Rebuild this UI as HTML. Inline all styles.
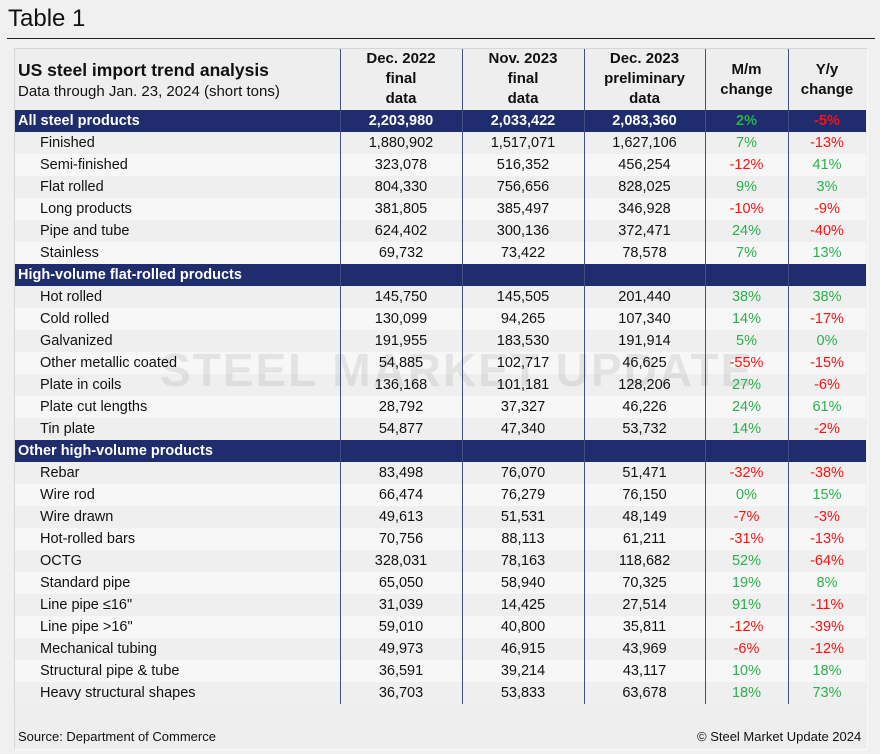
<!DOCTYPE html>
<html><head><meta charset="utf-8"><style>
body{margin:0;width:880px;height:754px;background:#f0f0f0;font-family:"Liberation Sans",Arial,sans-serif;position:relative;overflow:hidden}
#title{position:absolute;left:8px;top:5px;font-size:24px;color:#111}
#rule{position:absolute;left:7px;top:38px;width:868px;height:1px;background:#222}
#box{position:absolute;left:14px;top:48px;width:852px;height:700px;background:#eeeeee;border-left:1px solid #d6d6d6;border-top:1px solid #d6d6d6;box-shadow:1px 1px 0 #fafafa}
.c{position:absolute;font-size:14.5px;color:#111;line-height:22px;white-space:nowrap;z-index:2}
.row{position:absolute;left:15px;width:851px;height:22px}
.vl{position:absolute;width:1px;background:#405080;z-index:3}
.wm{position:absolute;left:160px;top:343px;font-size:46px;font-weight:bold;color:rgba(160,160,160,0.22);letter-spacing:2px;z-index:1}
</style></head><body>
<div id="title">Table 1</div>
<div id="rule"></div>
<div id="box"></div>
<div id="tbl"></div>
<div class="c" style="left:18px;top:59px;font-size:17.5px;font-weight:bold">US steel import trend analysis</div>
<div class="c" style="left:18px;top:81px;font-size:15px">Data through Jan. 23, 2024 (short tons)</div>
<div class="c" style="left:18px;top:726px;font-size:13px">Source: Department of Commerce</div>
<div class="c" style="left:697px;top:726px;font-size:13px">© Steel Market Update 2024</div>
<script>
const colHeads=[["Dec. 2022","final","data"],["Nov. 2023","final","data"],["Dec. 2023","preliminary","data"],["M/m","change"],["Y/y","change"]];
const labels=["All steel products","Finished","Semi-finished","Flat rolled","Long products","Pipe and tube","Stainless","High-volume flat-rolled products","Hot rolled","Cold rolled","Galvanized","Other metallic coated","Plate in coils","Plate cut lengths","Tin plate","Other high-volume products","Rebar","Wire rod","Wire drawn","Hot-rolled bars","OCTG","Standard pipe","Line pipe ≤16\"","Line pipe >16\"","Mechanical tubing","Structural pipe & tube","Heavy structural shapes"];
const kind=["H","r","r","r","r","r","r","S","r","r","r","r","r","r","r","S","r","r","r","r","r","r","r","r","r","r","r"];
const dec22=["2,203,980","1,880,902","323,078","804,330","381,805","624,402","69,732","","145,750","130,099","191,955","54,885","136,168","28,792","54,877","","83,498","66,474","49,613","70,756","328,031","65,050","31,039","59,010","49,973","36,591","36,703"];
const nov23=["2,033,422","1,517,071","516,352","756,656","385,497","300,136","73,422","","145,505","94,265","183,530","102,717","101,181","37,327","47,340","","76,070","76,279","51,531","88,113","78,163","58,940","14,425","40,800","46,915","39,214","53,833"];
const dec23=["2,083,360","1,627,106","456,254","828,025","346,928","372,471","78,578","","201,440","107,340","191,914","46,625","128,206","46,226","53,732","","51,471","76,150","48,149","61,211","118,682","70,325","27,514","35,811","43,969","43,117","63,678"];
const mm=[2,7,-12,9,-10,24,7,null,38,14,5,-55,27,24,14,null,-32,0,-7,-31,52,19,91,-12,-6,10,18];
const yy=[-5,-13,41,3,-9,-40,13,null,38,-17,0,-15,-6,61,-2,null,-38,15,-3,-13,-64,8,-11,-39,-12,18,73];
const colL=[340,462,584,705,788,866];
const top0=110,rh=22;
const B=document.body;
function mk(cls,style,txt){const d=document.createElement('div');d.className=cls;d.style.cssText=style;if(txt!==undefined)d.textContent=txt;B.appendChild(d);return d;}
colHeads.forEach((h,i)=>{const n=h.length;const l=colL[i],w=colL[i+1]-l;
 h.forEach((t,j)=>{const e=mk('c',`left:${l}px;width:${w}px;text-align:center;font-weight:bold;font-size:15px;line-height:20px;top:${(n===3?49:60)+j*20}px`,t);
 
 });});
const green="#2bb04a",red="#ff1010";
let ri=0;
labels.forEach((lab,i)=>{const y=top0+i*rh;const k=kind[i];
 let bg=k==='r'?(ri++%2===0?'#efefef':'#f7f7f7'):'#1f2d6e';
 const r=mk('row',`top:${y}px;background:${bg}`);
 
 
 if(k!=='r'){ri=0;}
 const bold=k!=='r';const col=bold?'#fff':'#111';
 const L=mk('c',`left:${bold?18:40}px;top:${y}px;color:${col};font-weight:${bold?'bold':'normal'}`,lab);
 
 
 [dec22[i],nov23[i],dec23[i]].forEach((v,j)=>{if(!v)return;const e=mk('c',`left:${colL[j]}px;width:${colL[j+1]-colL[j]}px;text-align:center;top:${y}px;color:${col};font-weight:${bold?'bold':'normal'}`,v);
  
  });
 [mm[i],yy[i]].forEach((v,j)=>{if(v===null)return;const c=v<0?red:green;const e=mk('c',`left:${colL[3+j]}px;width:${colL[4+j]-colL[3+j]}px;text-align:center;top:${y}px;color:${c};font-weight:${bold?'bold':'normal'}`,v+'%');
  
  });
});
const bottom=top0+labels.length*rh;
colL.slice(0,5).forEach(x=>{const v=mk('vl',`left:${x}px;top:49px;height:${bottom-49}px`);
 
 });
const w=mk('wm','','STEEL MARKET UPDATE');


</script>
</body></html>
